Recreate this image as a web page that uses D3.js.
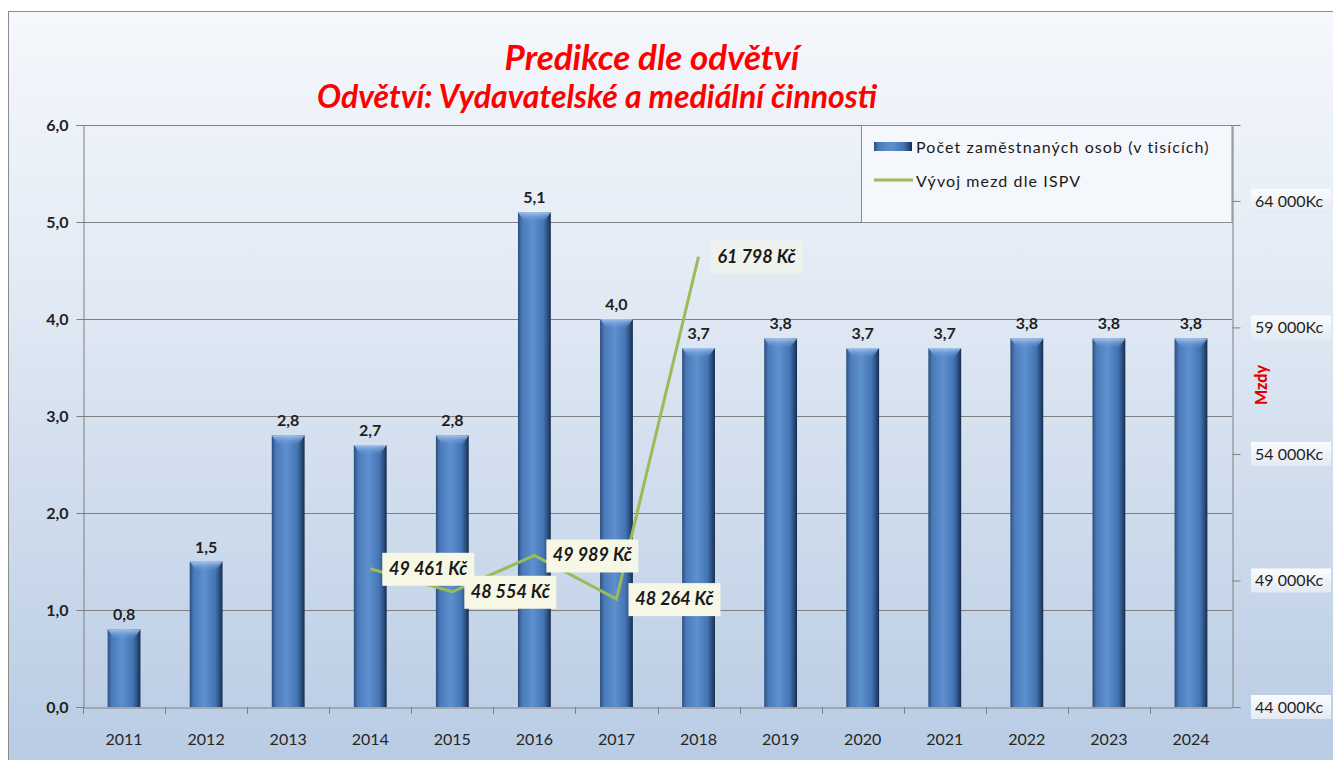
<!DOCTYPE html>
<html>
<head>
<meta charset="utf-8">
<script src="https://cdn.jsdelivr.net/npm/d3@7"></script>
<style>
  body { margin: 0; background: #fff; }
  svg { display: block; font-family: Lato, "Open Sans", sans-serif; }
</style>
</head>
<body>
<div id="chart"></div>
<script>
// Data
const years = ["2011", "2012", "2013", "2014", "2015", "2016", "2017", "2018", "2019", "2020", "2021", "2022", "2023", "2024"];
const employees = [0.8, 1.5, 2.8, 2.7, 2.8, 5.1, 4.0, 3.7, 3.8, 3.7, 3.7, 3.8, 3.8, 3.8];
const wageYears = ["2014", "2015", "2016", "2017", "2018"];
const wages = [49461, 48554, 49989, 48264, 61798];
const leftTicks = [0, 1, 2, 3, 4, 5, 6];
const rightTicks = [44000, 49000, 54000, 59000, 64000];

const width = 1333, height = 760;
const margin = { top: 125, right: 101, bottom: 53, left: 83 };

const svg = d3.select("#chart").append("svg")
    .attr("width", width)
    .attr("height", height);

const defs = svg.append("defs");

// Background gradient of the chart area
const bg = defs.append("linearGradient").attr("id", "bg")
    .attr("x1", 0).attr("y1", 0).attr("x2", 0).attr("y2", 1);
bg.append("stop").attr("offset", "0%").attr("stop-color", "#f5f8fc");
bg.append("stop").attr("offset", "30%").attr("stop-color", "#e6edf6");
bg.append("stop").attr("offset", "100%").attr("stop-color", "#b9cce4");

// Bar gradient for the bevelled look
const barGrad = defs.append("linearGradient").attr("id", "barGrad")
    .attr("x1", 0).attr("y1", 0).attr("x2", 1).attr("y2", 0);
[["0%", "#2c4d7d"], ["12%", "#4a79b8"], ["45%", "#5e90d0"], ["78%", "#4373b2"], ["92%", "#284a7a"], ["100%", "#152a48"]]
    .forEach(([o, c]) => barGrad.append("stop").attr("offset", o).attr("stop-color", c));

const topGrad = defs.append("linearGradient").attr("id", "topGrad")
    .attr("x1", 0).attr("y1", 0).attr("x2", 0).attr("y2", 1);
topGrad.append("stop").attr("offset", "0%").attr("stop-color", "#a6c8f0").attr("stop-opacity", 0.95);
topGrad.append("stop").attr("offset", "100%").attr("stop-color", "#5e90d0").attr("stop-opacity", 0);

const boxGrad = defs.append("linearGradient").attr("id", "boxGrad")
    .attr("x1", 0).attr("y1", 0).attr("x2", 0).attr("y2", 1);
boxGrad.append("stop").attr("offset", "0%").attr("stop-color", "#fbfcfe");
boxGrad.append("stop").attr("offset", "100%").attr("stop-color", "#e3eaf3");

// Chart area
svg.append("rect")
    .attr("x", 8.5).attr("y", 11.5)
    .attr("width", width - 8).attr("height", height - 11)
    .attr("fill", "url(#bg)")
    .attr("stroke", "#8c8c8c");

const x = d3.scaleBand()
    .domain(years)
    .range([margin.left, width - margin.right])
    .paddingInner(0.6)
    .paddingOuter(0.3);

const xStep = d3.scaleBand().domain(years).range([margin.left, width - margin.right]);

const y = d3.scaleLinear()
    .domain([0, 6])
    .range([height - margin.bottom, margin.top]);

const y2 = d3.scaleLinear()
    .domain([44000, 67000])
    .range([height - margin.bottom, margin.top]);

// Gridlines
svg.append("g")
    .selectAll("line")
    .data(leftTicks.slice(1))
    .join("line")
    .attr("x1", margin.left).attr("x2", width - margin.right)
    .attr("y1", d => Math.round(y(d)) + 0.5).attr("y2", d => Math.round(y(d)) + 0.5)
    .attr("stroke", "#7f7f7f");

// Legend box
const legend = svg.append("g");
legend.append("rect")
    .attr("x", 861.5).attr("y", y(6) + 0.5)
    .attr("width", width - margin.right - 861.5).attr("height", y(5) - y(6))
    .attr("fill", "#f4f7fb")
    .attr("stroke", "#8c8c8c");
legend.append("rect")
    .attr("x", 874).attr("y", 142).attr("width", 38).attr("height", 9)
    .attr("fill", "url(#barGrad)");
legend.append("line")
    .attr("x1", 874).attr("x2", 913).attr("y1", 180).attr("y2", 180)
    .attr("stroke", "#9bbb59").attr("stroke-width", 3);
legend.append("text").attr("x", 916).attr("y", 153)
    .attr("font-size", 16).attr("letter-spacing", 1.1).attr("fill", "#1a1a1a")
    .text("Počet zaměstnaných osob (v tisících)");
legend.append("text").attr("x", 916).attr("y", 187)
    .attr("font-size", 16).attr("letter-spacing", 1.1).attr("fill", "#1a1a1a")
    .text("Vývoj mezd dle ISPV");

// Bars
const bars = svg.append("g");
bars.selectAll("rect.bar")
    .data(employees)
    .join("rect")
    .attr("class", "bar")
    .attr("x", (d, i) => x(years[i]))
    .attr("y", d => y(d))
    .attr("width", x.bandwidth())
    .attr("height", d => y(0) - y(d))
    .attr("fill", "url(#barGrad)");

bars.selectAll("path.bevel")
    .data(employees)
    .join("path")
    .attr("class", "bevel")
    .attr("d", (d, i) => {
        const x0 = x(years[i]), w = x.bandwidth(), t = y(d);
        return `M${x0},${t}L${x0 + w},${t}L${x0 + w - 7},${t + 10}L${x0 + 7},${t + 10}Z`;
    })
    .attr("fill", "url(#topGrad)");

// Bar labels
svg.append("g")
    .selectAll("text")
    .data(employees)
    .join("text")
    .attr("x", (d, i) => x(years[i]) + x.bandwidth() / 2)
    .attr("y", d => y(d) - 9)
    .attr("text-anchor", "middle")
    .attr("font-size", 16).attr("font-weight", "bold")
    .attr("fill", "#1f1f1f")
    .text(d => d.toFixed(1).replace(".", ","));

// Left axis
const yAxis = svg.append("g")
    .attr("transform", `translate(${margin.left + 0.5},0)`)
    .call(d3.axisLeft(y).tickValues(leftTicks).tickSize(7).tickFormat(d => d.toFixed(1).replace(".", ",")));
yAxis.select(".domain").attr("stroke", "#7f7f7f");
yAxis.selectAll(".tick line").attr("stroke", "#7f7f7f");
yAxis.selectAll("text")
    .attr("x", -15)
    .attr("font-size", 16).attr("font-weight", "bold")
    .attr("font-family", "Lato, sans-serif")
    .attr("fill", "#1f1f1f");

// Bottom axis
const xAxis = svg.append("g")
    .attr("transform", `translate(0,${height - margin.bottom + 0.5})`)
    .call(d3.axisBottom(xStep).tickSize(0).tickPadding(26));
xAxis.select(".domain").attr("stroke", "#7f7f7f");
xAxis.selectAll("text")
    .attr("font-size", 16)
    .attr("font-family", "Lato, sans-serif")
    .attr("fill", "#262626");
svg.append("g")
    .selectAll("line")
    .data(years)
    .join("line")
    .attr("x1", d => Math.round(xStep(d)) + 0.5).attr("x2", d => Math.round(xStep(d)) + 0.5)
    .attr("y1", height - margin.bottom).attr("y2", height - margin.bottom + 7)
    .attr("stroke", "#7f7f7f");

// Right axis
const rx = width - margin.right;
const rAxis = svg.append("g")
    .attr("transform", `translate(${rx + 0.5},0)`)
    .call(d3.axisRight(y2).tickValues(rightTicks).tickSize(8).tickFormat(() => ""));
rAxis.select(".domain").attr("stroke", "#7f7f7f");
rAxis.selectAll(".tick line").attr("stroke", "#7f7f7f");

const rLabels = svg.append("g")
    .selectAll("g")
    .data(rightTicks)
    .join("g")
    .attr("transform", d => `translate(${rx + 19},${y2(d)})`);
rLabels.append("rect")
    .attr("x", 0).attr("y", -12).attr("width", 80).attr("height", 24)
    .attr("fill", "url(#boxGrad)");
rLabels.append("text")
    .attr("x", 4).attr("y", 6)
    .attr("font-size", 16)
    .attr("fill", "#1f1f1f")
    .text(d => d3.format(",")(d).replace(",", " ") + "Kc");

svg.append("text")
    .attr("transform", `translate(1267,385) rotate(-90)`)
    .attr("text-anchor", "middle")
    .attr("font-size", 16).attr("font-weight", "900")
    .attr("fill", "#e00000")
    .text("Mzdy");

// Wage line
const xc = d => xStep(d) + xStep.bandwidth() / 2;
const line = d3.line()
    .x((d, i) => xc(wageYears[i]))
    .y(d => y2(d));
svg.append("path")
    .datum(wages)
    .attr("fill", "none")
    .attr("stroke", "#9bbb59")
    .attr("stroke-width", 3)
    .attr("d", line);

// Wage labels
const wLabels = svg.append("g")
    .selectAll("g")
    .data(wages)
    .join("g")
    .attr("transform", (d, i) => `translate(${xc(wageYears[i]) + 12},${y2(d)})`);
wLabels.append("rect")
    .attr("x", 0).attr("y", -16).attr("width", 92).attr("height", 33)
    .attr("fill", "#f7f7e6")
    .attr("fill-opacity", (d, i) => i === wages.length - 1 ? 0.55 : 1);
wLabels.append("text")
    .attr("x", 46).attr("y", 6)
    .attr("text-anchor", "middle")
    .attr("font-size", 18).attr("font-weight", "bold").attr("font-style", "italic")
    .attr("fill", "#1a1a1a")
    .text(d => d3.format(",")(d).replace(",", " ") + " Kč");

// Titles
svg.append("text")
    .attr("x", 652).attr("y", 70)
    .attr("text-anchor", "middle")
    .attr("font-size", 35).attr("font-weight", "bold").attr("font-style", "italic")
    .attr("fill", "#ff0000")
    .text("Predikce dle odvětví");
svg.append("text")
    .attr("x", 597).attr("y", 108)
    .attr("text-anchor", "middle")
    .attr("font-size", 32).attr("font-weight", "bold").attr("font-style", "italic")
    .attr("fill", "#ff0000")
    .text("Odvětví: Vydavatelské a mediální činnosti");
</script>
</body>
</html>
